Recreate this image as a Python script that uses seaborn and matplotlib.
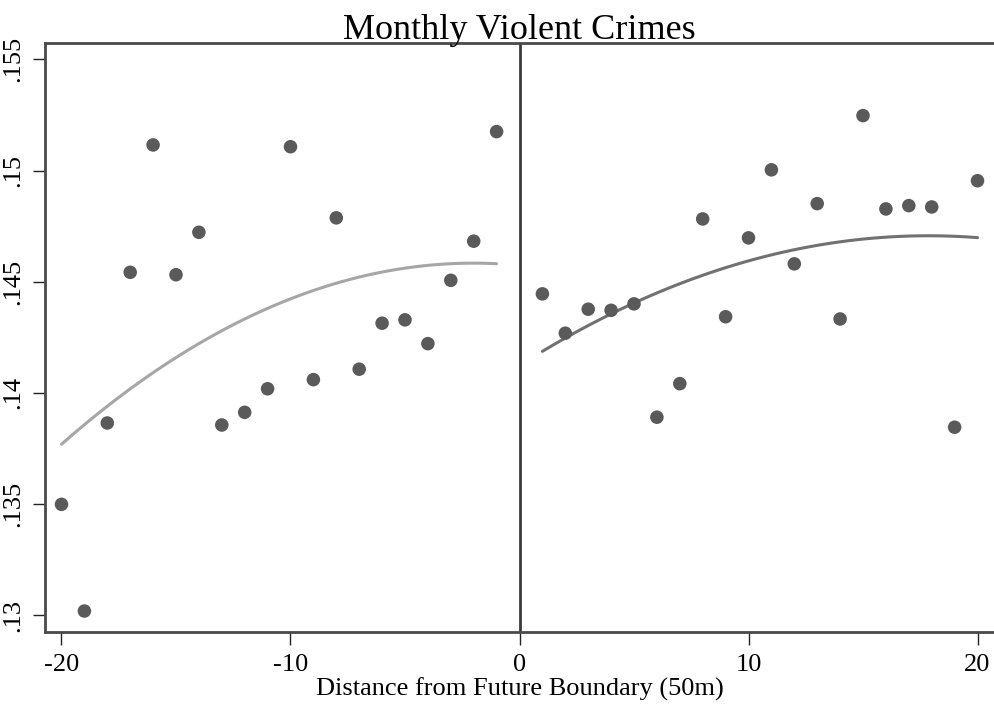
import numpy as np
import pandas as pd
import matplotlib
matplotlib.use("Agg")
import matplotlib.pyplot as plt
import seaborn as sns

# ---- data ----
left_x = [-20, -19, -18, -17, -16, -15, -14, -13, -12, -11,
          -10, -9, -8, -7, -6, -5, -4, -3, -2, -1]
left_y = [0.13498, 0.13018, 0.13864, 0.14542, 0.15115, 0.14531, 0.14722, 0.13855, 0.13912, 0.14018,
          0.15107, 0.14059, 0.14787, 0.14106, 0.14313, 0.14328, 0.14221, 0.14506, 0.14682, 0.15175]
right_x = [1, 2, 3, 4, 5, 6, 7, 8, 9, 10,
           11, 12, 13, 14, 15, 16, 17, 18, 19, 20]
right_y = [0.14445, 0.14268, 0.14376, 0.14371, 0.14400, 0.13890, 0.14041, 0.14782, 0.14342, 0.14697,
           0.15003, 0.14580, 0.14851, 0.14332, 0.15247, 0.14827, 0.14842, 0.14836, 0.13845, 0.14954]
x_ticks = [-20, -10, 0, 10, 20]
x_ticklabels = ["-20", "-10", "0", "10", "20"]
y_ticks = [0.13, 0.135, 0.14, 0.145, 0.15, 0.155]
y_ticklabels = [".13", ".135", ".14", ".145", ".15", ".155"]
title = "Monthly Violent Crimes"
xlabel = "Distance from Future Boundary (50m)"

left = pd.DataFrame({"x": left_x, "y": left_y})
right = pd.DataFrame({"x": right_x, "y": right_y})
allpts = pd.concat([left, right], ignore_index=True)

sns.set_theme(style="white")
plt.rcParams["font.family"] = ["Liberation Serif", "DejaVu Serif"]
plt.rcParams["text.color"] = "black"
plt.rcParams["axes.labelcolor"] = "black"
plt.rcParams["xtick.color"] = "black"
plt.rcParams["ytick.color"] = "black"

fig = plt.figure(figsize=(9.94, 7.05), dpi=100)
ax = fig.add_axes([45 / 994, 73.3 / 705, 949 / 994, 589 / 705])

ax.axvline(0, color="#3a3a3a", lw=2.0, zorder=1)

sns.regplot(data=left, x="x", y="y", order=2, ci=None, scatter=False, ax=ax,
            line_kws=dict(color="#a6a6a6", lw=2.2, zorder=2))
sns.regplot(data=right, x="x", y="y", order=2, ci=None, scatter=False, ax=ax,
            line_kws=dict(color="#717171", lw=2.2, zorder=2))
sns.scatterplot(data=allpts, x="x", y="y", ax=ax, color="#5a5a5a", s=95,
                edgecolor="none", linewidth=0, zorder=3)

ax.set_xlim(-20.72, 20.72)
ax.set_ylim(0.12925, 0.15575)
ax.set_xticks(x_ticks)
ax.set_xticklabels(x_ticklabels, fontsize=19, color="black")
ax.set_yticks(y_ticks)
ax.set_yticklabels(y_ticklabels, fontsize=19, rotation=90, va="center", color="black")
ax.tick_params(axis="both", which="major", direction="out", length=9, width=1.0,
               color="#222222", bottom=True, left=True)
ax.tick_params(axis="x", pad=7)
ax.tick_params(axis="y", pad=6)
ax.set_xlabel(xlabel, fontsize=19, labelpad=1, color="black")
ax.set_ylabel("")
ax.set_title(title, fontsize=26, pad=3, color="black")

for side in ["top", "bottom", "left"]:
    ax.spines[side].set_visible(True)
    ax.spines[side].set_color("#4a4a4a")
    ax.spines[side].set_linewidth(2.0)
ax.spines["right"].set_visible(False)

fig.savefig("out.png", dpi=100, facecolor="white")
